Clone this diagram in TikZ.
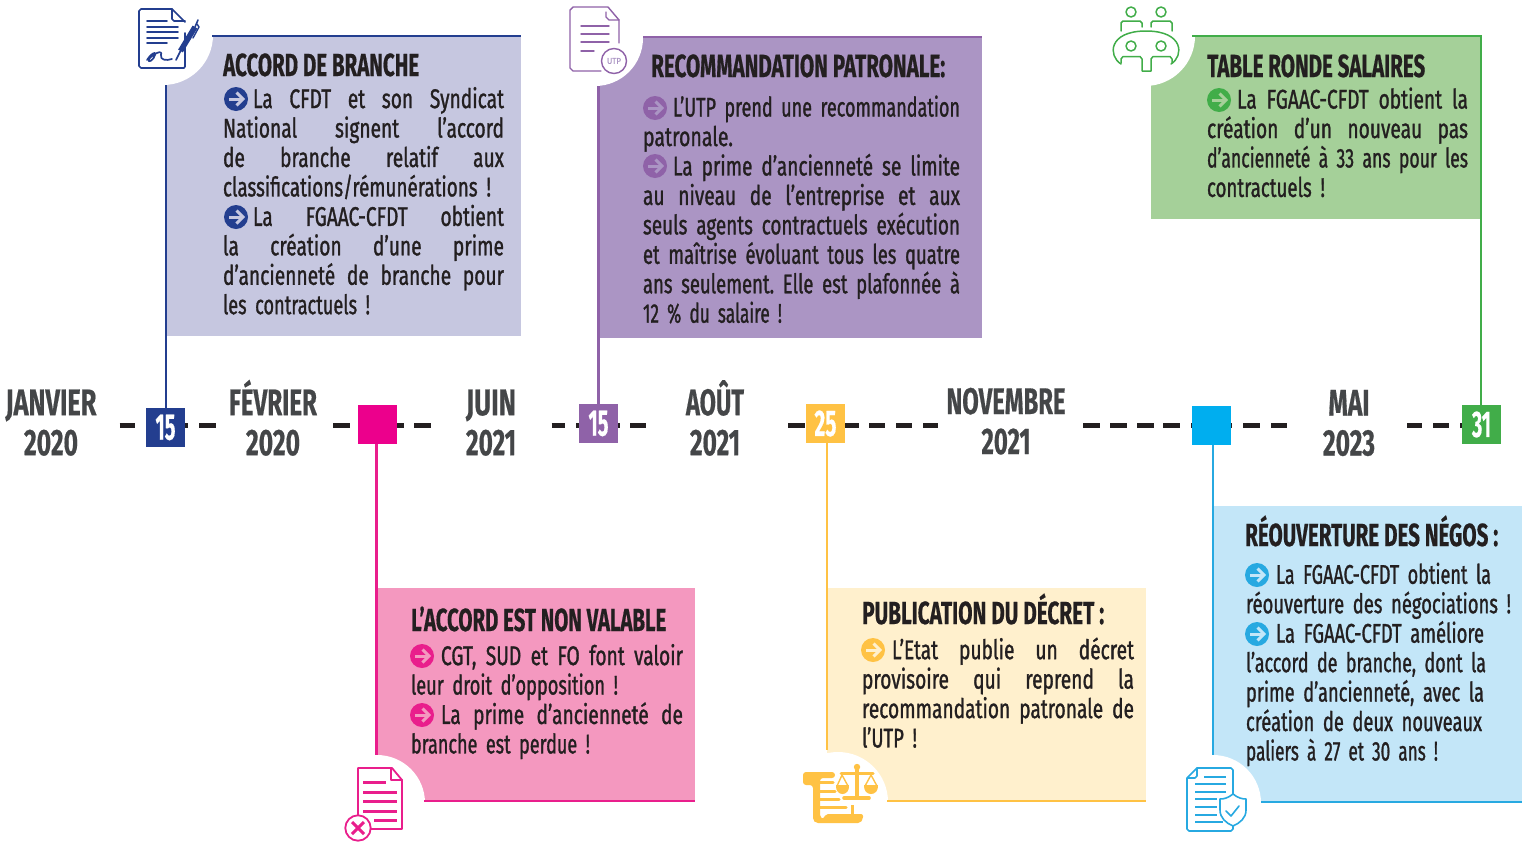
\documentclass[tikz,border=0pt]{standalone}
\usepackage{fontspec}
\usepackage{graphicx}
\setmainfont[FakeStretch=0.7,FakeBold=0.5]{Fira Sans}
\newfontfamily\bodyf[FakeStretch=0.71,FakeBold=1.1,WordSpace=0.7]{Fira Sans}
\definecolor{ink}{HTML}{231F20}
\definecolor{grey}{HTML}{444648}
\definecolor{navy}{HTML}{233E8F}
\definecolor{navyf}{HTML}{C6C7E0}
\definecolor{purp}{HTML}{8F62A8}
\definecolor{purpf}{HTML}{AB95C4}
\definecolor{gree}{HTML}{41AD49}
\definecolor{greef}{HTML}{A5D099}
\definecolor{pink}{HTML}{EC008C}
\definecolor{pinkl}{HTML}{E91E8C}
\definecolor{pinkf}{HTML}{F498BF}
\definecolor{yell}{HTML}{FFC244}
\definecolor{yellf}{HTML}{FFF0CD}
\definecolor{blu}{HTML}{00AEEF}
\definecolor{blul}{HTML}{27A9E1}
\definecolor{bluf}{HTML}{C3E6F8}
\newsavebox\lbox
% justified line: spaces stretched, squeezed if too wide
\newcommand{\jl}[2][0pt]{\hspace*{#1}\sbox\lbox{#2}\ifdim\wd\lbox>\dimexpr\linewidth-#1\relax
  \resizebox{\dimexpr\linewidth-#1\relax}{\height}{\usebox\lbox}\else
  \hbox to \dimexpr\linewidth-#1\relax{\spaceskip=.16em plus 1fil\relax #2}\fi}
% line of a given printed width
\newcommand{\fw}[2]{\resizebox{#1pt}{\height}{#2}}
\newcommand{\mw}[2]{\strut\smash{\fw{#1}{#2}}}
\tikzset{
  x=1pt,y=-1pt,
  bodytext/.style={anchor=north west,inner sep=0pt,outer sep=0pt,align=left,text=ink,
    text width=#1pt,execute at begin node={\linewidth=#1pt\relax\frenchspacing},
    font=\fontsize{27}{29.45}\selectfont\bodyf},
  titletext/.style={anchor=base west,inner sep=0pt,text=ink,font=\fontsize{32}{34}\selectfont\bfseries},
  monthtext/.style={anchor=center,inner sep=0pt,text=grey,align=center,
    font=\fontsize{37}{40}\selectfont\bfseries},
  datebox/.style={minimum width=39pt,minimum height=39pt,inner sep=0pt,outer sep=0pt,fill=#1,text=white,
    font=\fontsize{37}{37}\selectfont\bfseries},
  conn/.style={line width=2.4pt,draw=#1},
  dashseg/.style={line width=5pt,draw=ink},
  bulletdot/.style={circle,fill=#1,minimum size=24pt,inner sep=0pt,outer sep=0pt},
  icon/.style={line width=#1,line cap=round,line join=round},
}
\newcommand{\bul}[5]{% name,x,y,circle colour,arrow colour
  \node[bulletdot=#4] (#1) at (#2,#3) {};
  \draw[line width=3pt,draw=#5,line cap=butt] ($(#1)+(-7,0)$) -- ($(#1)+(6,0)$);
  \draw[line width=3pt,draw=#5,line join=miter] ($(#1)+(0.5,-6.5)$) -- ($(#1)+(7,0)$) -- ($(#1)+(0.5,6.5)$);
}
\usetikzlibrary{calc}
\begin{document}
\begin{tikzpicture}
\useasboundingbox (0,0) rectangle (1522,841);
% ---- timeline dashes
\foreach \a/\b in {119.5/135,146/187.5,199/216,333/350,360/404,414/430.5,551.5/565,576/620,630/646,
  788/805,845/859,869/885,896/912,923/938,1083/1100,1110/1127,1137/1154,1163/1180,1191/1232,1243/1260,1271/1287,
  1407/1422,1433/1449,1460/1470}
  \draw[dashseg] (\a,425) -- (\b,425);
% ---- boxes
\fill[navyf] (166,36) rectangle (521,336);
\fill[purpf] (598,37) rectangle (982,338);
\fill[greef] (1151,36) rectangle (1481,219);
\fill[pinkf] (376,588) rectangle (695,802);
\fill[yellf] (827,588) rectangle (1146,802);
\fill[bluf] (1213,506) rectangle (1522,803);
% ---- date squares
\node[datebox=navy] (d1) at (165.5,427.5) {\raisebox{-1.5pt}{\fw{20}{15}}};
\node[datebox=pink] (d2) at (377.5,424.5) {};
\node[datebox=purp] (d3) at (598.5,423.5) {\fw{20}{15}};
\node[datebox=yell] (d4) at (825.5,423.5) {\fw{22}{25}};
\node[datebox=blu]  (d5) at (1211.5,425.5) {};
\node[datebox=gree] (d6) at (1481.5,424.5) {\raisebox{-1.5pt}{\fw{19}{31}}};
% ---- corner white circles
\fill[white] (163,35) circle (50);
\fill[white] (595,38) circle (48);
\fill[white] (1145,36) circle (50);
\fill[white] (377,803) circle (48);
\fill[white] (838,802) circle (50);
\fill[white] (1213,803) circle (48);
% ---- connectors and box edges
\coordinate (c1) at (166,85);
\coordinate (c2) at (376.5,755);
\coordinate (c3) at (598.5,86);
\coordinate (c4) at (827,750);
\coordinate (c5) at (1213,755);
\coordinate (c6) at (1481,36);
\draw[conn=navy] (d1.north -| c1) -- (c1);
\draw[line width=2.2pt,navy] (212,36) -- (521,36);
\draw[conn=pinkl] (d2.south -| c2) -- (c2);
\draw[line width=2.2pt,pinkl] (424,801) -- (695,801);
\draw[conn=purp] (d3.north -| c3) -- (c3);
\draw[line width=1.6pt,purp] (643,37) -- (982,37);
\draw[conn=yell] (d4.south -| c4) -- (c4);
\draw[line width=2.2pt,yell] (887,801) -- (1146,801);
\draw[conn=blul] (d5.south -| c5) -- (c5);
\draw[line width=2.4pt,blul] (1261,802) -- (1522,802);
\draw[conn=gree] (d6.north -| c6) -- (c6) -- (1192,36);
% ---- months
\node[monthtext] (m1) at (51,427.2) {\mw{91}{JANVIER}\\\mw{54}{2020}};
\node[monthtext] (m2) at (273,427.2) {\mw{88}{FÉVRIER}\\\mw{54}{2020}};
\node[monthtext] (m3) at (491,427.2) {\mw{50}{JUIN}\\\mw{50}{2021}};
\node[monthtext] (m4) at (715,427.2) {\mw{58}{AOÛT}\\\mw{50}{2021}};
\node[monthtext] (m5) at (1006,426) {\mw{119}{NOVEMBRE}\\\mw{49}{2021}};
\node[monthtext] (m6) at (1349,427.5) {\mw{41}{MAI}\\\mw{52}{2023}};
% ---- titles
\node[titletext] (t1) at (223,76) {\fw{196}{ACCORD DE BRANCHE}};
\node[titletext] (t2) at (651,77) {\fw{294}{RECOMMANDATION PATRONALE:}};
\node[titletext] (t3) at (1207,77) {\fw{218}{TABLE RONDE SALAIRES}};
\node[titletext] (t4) at (411,631) {\fw{255}{L’ACCORD EST NON VALABLE}};
\node[titletext] (t5) at (862,624) {\fw{242}{PUBLICATION DU DÉCRET :}};
\node[titletext] (t6) at (1245,546) {\fw{253}{RÉOUVERTURE DES NÉGOS :}};
% ---- bodies
\node[bodytext=281] (b1) at (223,87) {%
  \jl[30pt]{La CFDT et son Syndicat}\\
  \jl{National signent l’accord}\\
  \jl{de branche relatif aux}\\
  \fw{268}{classifications/rémunérations !}\\
  \jl[30pt]{La FGAAC-CFDT obtient}\\
  \jl{la création d’une prime}\\
  \jl{d’ancienneté de branche pour}\\
  \fw{147}{les contractuels !}};
\node[bodytext=317] (b2) at (643,95.5) {%
  \jl[30pt]{L’UTP prend une recommandation}\\
  \fw{90}{patronale.}\\
  \jl[30pt]{La prime d’ancienneté se limite}\\
  \jl{au niveau de l’entreprise et aux}\\
  \jl{seuls agents contractuels exécution}\\
  \jl{et maîtrise évoluant tous les quatre}\\
  \jl{ans seulement. Elle est plafonnée à}\\
  \fw{139}{12 \% du salaire !}};
\node[bodytext=261] (b3) at (1207,87.5) {%
  \jl[30pt]{La FGAAC-CFDT obtient la}\\
  \jl{création d’un nouveau pas}\\
  \jl{d’ancienneté à 33 ans pour les}\\
  \fw{118}{contractuels !}};
\node[bodytext=272] (b4) at (411,644) {%
  \jl[30pt]{CGT, SUD et FO font valoir}\\
  \fw{207}{leur droit d’opposition !}\\
  \jl[30pt]{La prime d’ancienneté de}\\
  \fw{179}{branche est perdue !}};
\node[bodytext=272] (b5) at (862,637.5) {%
  \jl[30pt]{L’Etat publie un décret}\\
  \jl{provisoire qui reprend la}\\
  \jl{recommandation patronale de}\\
  \fw{55}{l’UTP !}};
\node[bodytext=270] (b6) at (1246,562.7) {%
  \hspace*{30pt}\fw{215}{La FGAAC-CFDT obtient la}\\
  \fw{265}{réouverture des négociations !}\\
  \hspace*{30pt}\fw{208}{La FGAAC-CFDT améliore}\\
  \fw{240}{l’accord de branche, dont la}\\
  \fw{238}{prime d’ancienneté, avec la}\\
  \fw{236}{création de deux nouveaux}\\
  \fw{192}{paliers à 27 et 30 ans !}};
% ---- bullets
\bul{p1}{236}{99}{navy}{navyf}
\bul{p2}{236}{217}{navy}{navyf}
\bul{p3}{655}{108}{purp}{purpf}
\bul{p4}{655}{166}{purp}{purpf}
\bul{p5}{1219}{100}{gree}{greef}
\bul{p6}{422}{656}{pinkl}{pinkf}
\bul{p7}{422}{715}{pinkl}{pinkf}
\bul{p8}{873}{650}{yell}{yellf}
\bul{p9}{1257}{575}{blul}{bluf}
\bul{p10}{1257}{634}{blul}{bluf}
% ---- icon 1: signed document
\begin{scope}[draw=navy,icon=1.7pt]
\draw (185,33) -- (185,66.5) -- (184,68) -- (141,68) -- (139,66) -- (139,11) -- (141,9) -- (172,9) -- (185,22);
\draw (172,9) -- (172,19) -- (174,21) -- (185,21);
\draw (147,21) -- (167,21) (147,27) -- (178,27) (147,32) -- (178,32) (147,38) -- (178,38) (147,43) -- (167,43);
\draw (147,60) .. controls (150,55) and (156,50) .. (155,55) .. controls (154,60) and (147,64) .. (149,59)
  .. controls (153,54) and (163,49) .. (161,55) .. controls (160,60) and (166,61) .. (172,59);
\draw[line width=5.5pt,line cap=butt] (180.5,51) -- (195,27);
\draw[line width=1.6pt] (176,60) -- (180.5,51) (195,27) -- (198,20);
\draw[line width=1.4pt] (193,38) -- (199,27) -- (197,24);
\end{scope}
% ---- icon 2: document UTP
\begin{scope}[draw=purp,icon=1.4pt]
\draw (619,43) -- (619,20) -- (608,7) -- (573,7) -- (570,10) -- (570,68) -- (573,71) -- (601,71);
\draw (606,12) -- (606,17) -- (609,20) -- (619,20);
\draw (581,26) -- (609,26) (581,34) -- (609,34) (581,42) -- (609,42) (581,51) -- (594,51);
\node[circle,draw=purp,line width=1.4pt,minimum size=25pt,inner sep=0pt,text=purpf,
  font=\fontsize{8.5}{9}\selectfont] (utp) at (614,61) {\resizebox{14pt}{\height}{UTP}};
\end{scope}
% ---- icon 3: round table
\begin{scope}[draw=gree,icon=1.5pt]
\draw (1131,12) circle (5) (1161,12) circle (5) (1131,46) circle (5) (1161,46) circle (5);
\draw (1121,31) -- (1121,23) -- (1123,21) -- (1140,21) -- (1142,23) -- (1142,27);
\draw (1151,27) -- (1151,23) -- (1153,21) -- (1170,21) -- (1172,23) -- (1172,31);
\draw (1121,64) .. controls (1108,56) and (1108,31) .. (1146,31) .. controls (1184,31) and (1184,56) .. (1171,64);
\draw (1121,63) -- (1121,59) -- (1123,56.5) -- (1140,56.5) -- (1142,59) -- (1142,71) -- (1151,71) -- (1151,59) -- (1153,56.5) -- (1170,56.5) -- (1172,59) -- (1172,63);
\end{scope}
% ---- icon 4: refused document
\begin{scope}[draw=pinkl,icon=1.8pt]
\draw (358,815) -- (358,768) -- (392,768) -- (402,780) -- (402,829) -- (370,829);
\draw (391,768) -- (391,780) -- (402,780);
\draw[line width=3pt,line cap=butt] (363,782) -- (386,782) (363,792) -- (397,792) (363,801) -- (397,801)
  (363,811) -- (397,811) (374,820) -- (397,820);
\fill[white] (358,828) circle (13);
\draw (358,828) circle (12.7);
\draw[line width=3pt,line cap=butt] (352,822) -- (364,834) (364,822) -- (352,834);
\end{scope}
% ---- icon 5: scroll and scales
\begin{scope}[fill=yell,draw=yell,icon=3pt]
\fill[rounded corners=3pt] (803,785) -- (803,772) -- (835,772) -- (835,778) -- (820,778) -- (820,815) -- (813,815) -- (813,785) -- cycle;
\fill[rounded corners=2pt] (813,810) -- (820,810) -- (820,817) -- (823,819) -- (826,814) -- (863,814) -- (863,819) -- (860,823) -- (816,823) -- (813,820) -- cycle;
\draw (820,782) -- (833,782) (820,791) -- (835,791) (820,799) -- (839,799) (820,807) -- (846,807);
\draw[line width=3pt,line cap=butt] (852,805) -- (852,814);
\draw[line width=4pt] (857,770) -- (857,797);
\draw[line width=3.6pt] (844,798) -- (869,798);
\draw[line width=3pt] (841,773) -- (873,773);
\fill (857,767) circle (3.2);
\draw[line width=1.4pt] (842,775) -- (837,786) (842,775) -- (848,786) (871,775) -- (865,786) (871,775) -- (877,786);
\fill (836,785) -- (849,785) .. controls (850,797) and (835,797) .. (836,785) -- cycle;
\fill (864,785) -- (878,785) .. controls (879,797) and (863,797) .. (864,785) -- cycle;
\end{scope}
% ---- icon 6: protected document
\begin{scope}[draw=blul,icon=1.6pt]
\draw (1197,768) -- (1231,768) -- (1233,770) -- (1233,794);
\draw (1233,826) -- (1233,829) -- (1231,831) -- (1189,831) -- (1187,829) -- (1187,778) -- (1197,768) -- (1197,776) -- (1195,778) -- (1187,778);
\draw[line width=1.9pt,line cap=butt] (1204,777) -- (1226,777) (1195,784) -- (1226,784) (1195,792) -- (1226,792)
  (1195,799) -- (1217,799) (1195,807) -- (1217,807) (1195,815) -- (1217,815) (1195,822) -- (1223,822);
\filldraw[fill=white] (1233,794) .. controls (1238,798) and (1242,799) .. (1246,799) -- (1246,810)
  .. controls (1246,818) and (1240,823) .. (1233,826) .. controls (1226,823) and (1220,818) .. (1220,810)
  -- (1220,799) .. controls (1224,799) and (1228,798) .. (1233,794) -- cycle;
\draw (1226,811) -- (1231,816) -- (1239,806);
\end{scope}
\end{tikzpicture}
\end{document}
